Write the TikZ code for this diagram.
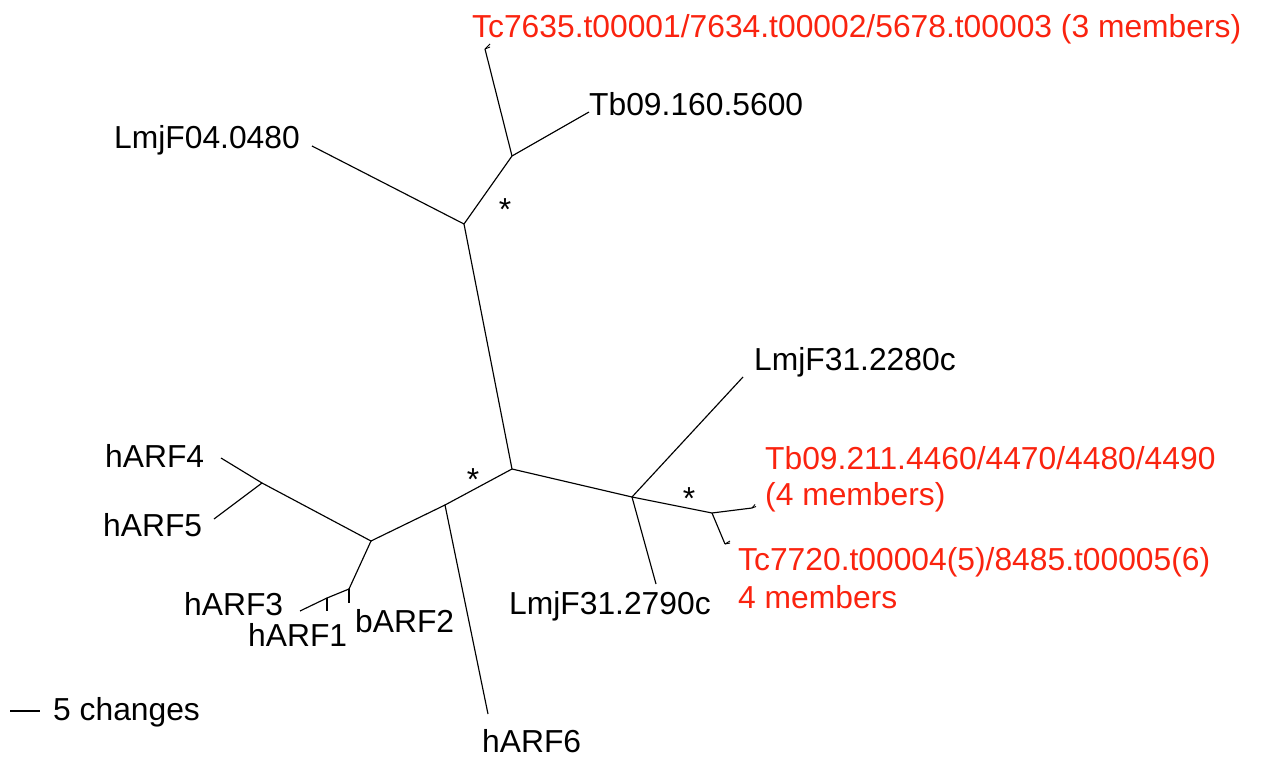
\documentclass[tikz,border=0pt]{standalone}
\usepackage{fontspec}
\setmainfont{Liberation Sans}
\definecolor{lblred}{RGB}{250,35,15}
\begin{document}
\begin{tikzpicture}[x=1pt,y=-1pt,
  br/.style={line width=1.15pt, black},
  tip/.style={line width=0.9pt, black},
  lbl/.style={inner sep=0pt, anchor=base west, font=\fontsize{31.8}{36}\selectfont},
  redlbl/.style={lbl, text=lblred},
  star/.style={inner sep=0pt, anchor=base, font=\fontsize{31.8}{36}\selectfont}]
\useasboundingbox (0,0) rectangle (1262,760);
% internal nodes
\coordinate (A) at (464,224);
\coordinate (B) at (512,156);
\coordinate (C) at (512,469);
\coordinate (D) at (445,505);
\coordinate (E) at (371,541);
\coordinate (F) at (262,483);
\coordinate (G) at (349,589);
\coordinate (H) at (327,598);
\coordinate (I) at (632,497);
\coordinate (J) at (712,513);
% leaf ends
\coordinate (lLmj04) at (312,146);
\coordinate (lTb160) at (589,112);
\coordinate (lTc7635) at (485,49);
\coordinate (lA4) at (221,458);
\coordinate (lA5) at (214,519);
\coordinate (lA3) at (300,611);
\coordinate (lA1) at (327,611);
\coordinate (lB2) at (349,603);
\coordinate (lA6) at (488,714);
\coordinate (l2280) at (743,377);
\coordinate (l2790) at (656,584);
\coordinate (lTb211) at (752,508);
\coordinate (lTc7720) at (725,544);
% tiny tip forks
\coordinate (t1a) at (490,47);
\coordinate (t1b) at (490,44);
\coordinate (t2a) at (756,506.5);
\coordinate (t2b) at (755,504.5);
\coordinate (t3a) at (730,543);
\coordinate (t3b) at (730,541);
% branches
\draw[br] (A) -- (lLmj04);
\draw[br] (A) -- (B);
\draw[br] (B) -- (lTb160);
\draw[br] (B) -- (lTc7635);
\draw[br] (A) -- (C);
\draw[br] (C) -- (D);
\draw[br] (D) -- (lA6);
\draw[br] (D) -- (E);
\draw[br] (E) -- (F);
\draw[br] (F) -- (lA4);
\draw[br] (F) -- (lA5);
\draw[br] (E) -- (G);
\draw[br] (G) -- (lB2);
\draw[br] (G) -- (H);
\draw[br] (H) -- (lA1);
\draw[br] (H) -- (lA3);
\draw[br] (C) -- (I);
\draw[br] (I) -- (l2280);
\draw[br] (I) -- (l2790);
\draw[br] (I) -- (J);
\draw[br] (J) -- (lTb211);
\draw[br] (J) -- (lTc7720);
\draw[tip] (lTc7635) -- (t1a);
\draw[tip] (lTc7635) -- (t1b);
\draw[tip] (lTb211) -- (t2a);
\draw[tip] (lTb211) -- (t2b);
\draw[tip] (lTc7720) -- (t3a);
\draw[tip] (lTc7720) -- (t3b);
% support stars
\node[star] (s1) at (505,220) {*};
\node[star] (s2) at (473,490) {*};
\node[star] (s3) at (689,509) {*};
% labels
\node[redlbl] (nTc7635) at (472,38) {Tc7635.t00001/7634.t00002/5678.t00003 (3 members)};
\node[lbl] (nTb160) at (589,116) {Tb09.160.5600};
\node[lbl] (nLmj04) at (114,148) {LmjF04.0480};
\node[lbl] (n2280) at (754,370) {LmjF31.2280c};
\node[redlbl] (nTb211) at (765,469) {Tb09.211.4460/4470/4480/4490};
\node[redlbl] (nTb211b) at (765,505) {(4 members)};
\node[redlbl] (nTc7720) at (738,570) {Tc7720.t00004(5)/8485.t00005(6)};
\node[redlbl] (nTc7720b) at (738,608) {4 members};
\node[lbl] (n2790) at (509,614) {LmjF31.2790c};
\node[lbl] (nA4) at (105,467) {hARF4};
\node[lbl] (nA5) at (103,536) {hARF5};
\node[lbl] (nA3) at (184,615) {hARF3};
\node[lbl] (nA1) at (248,646) {hARF1};
\node[lbl] (nB2) at (355,632) {bARF2};
\node[lbl] (nA6) at (482,752) {hARF6};
% scale bar
\coordinate (sb1) at (10,711);
\coordinate (sb2) at (40,711);
\draw[br] (sb1) -- (sb2);
\node[lbl] (nscale) at (53,720) {5 changes};
\end{tikzpicture}
\end{document}
